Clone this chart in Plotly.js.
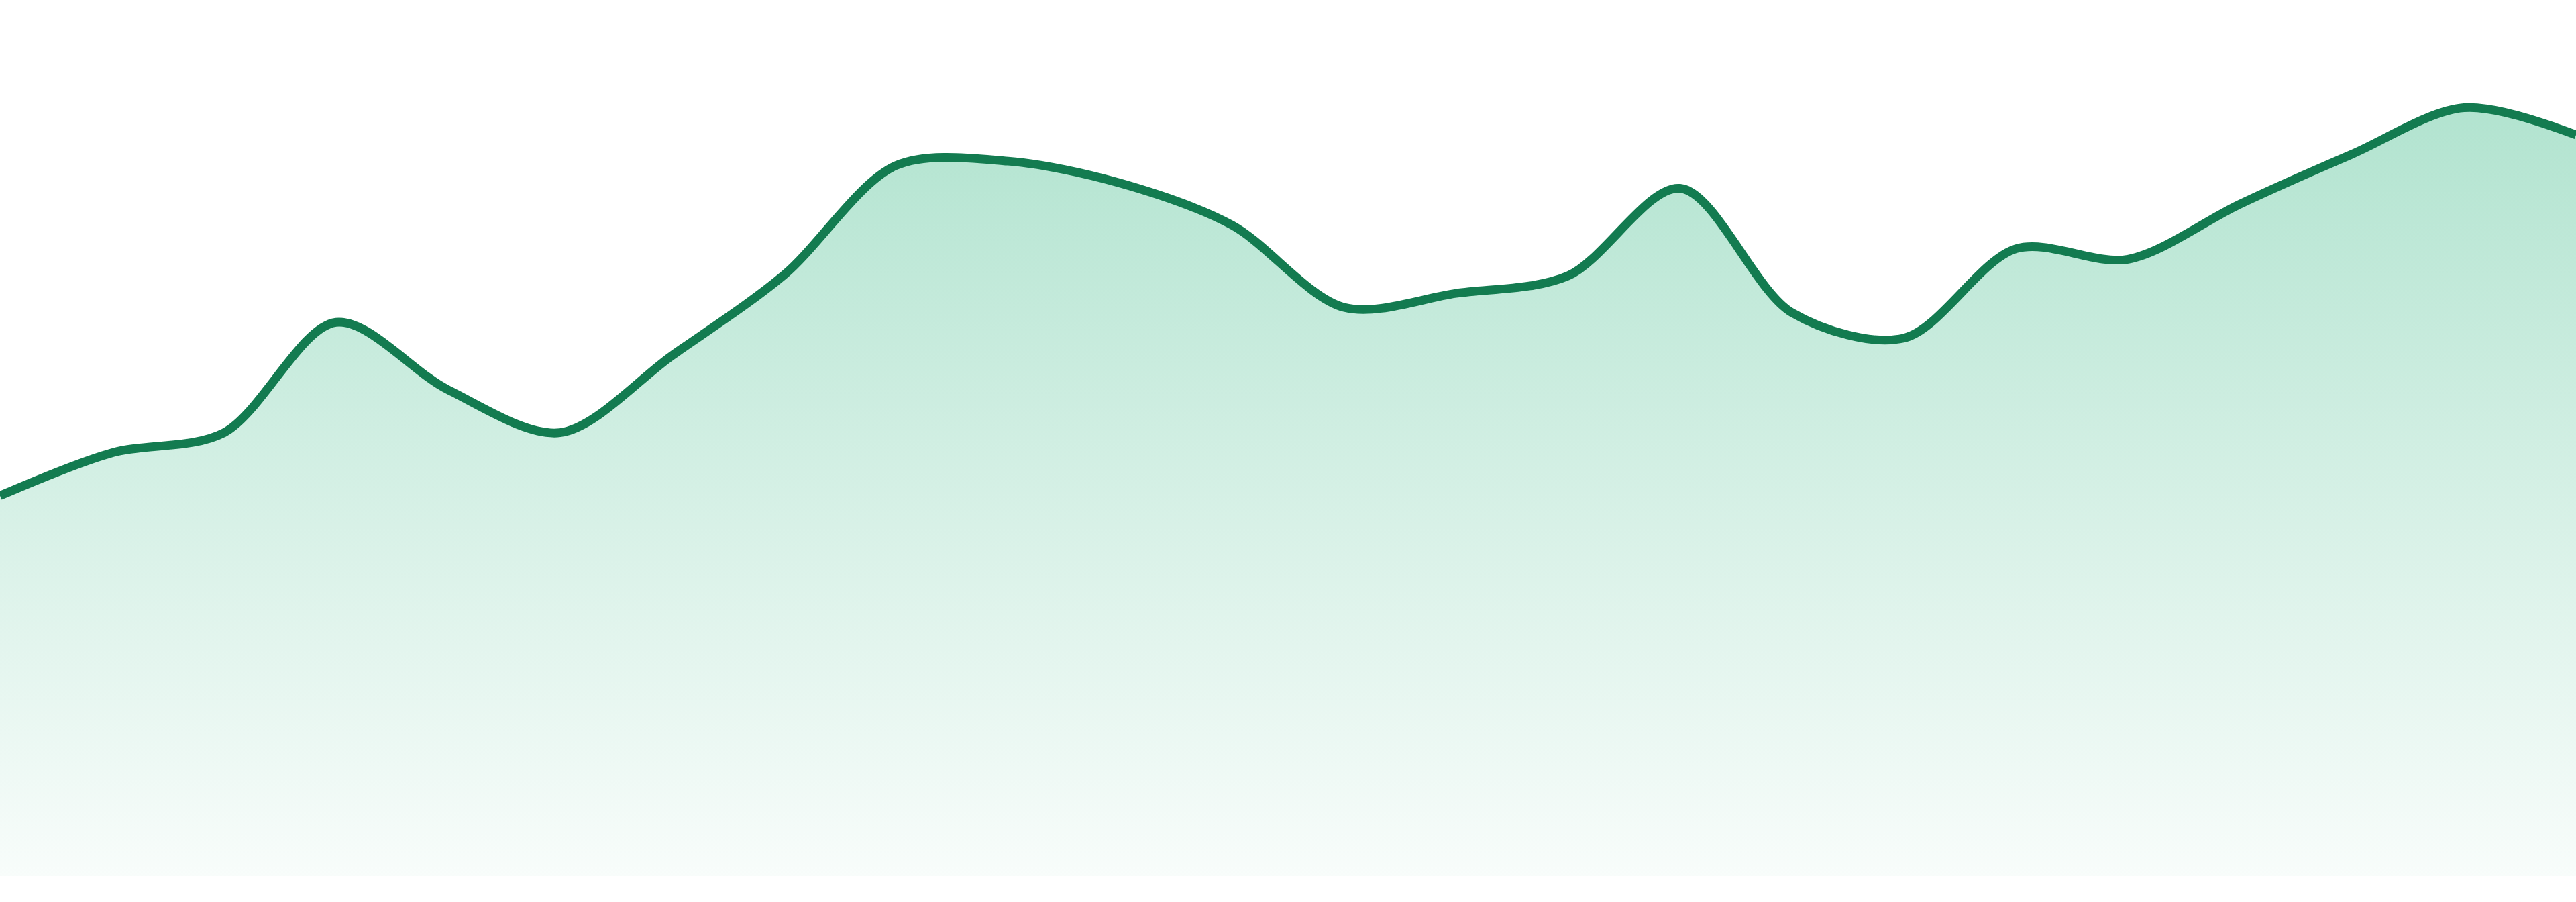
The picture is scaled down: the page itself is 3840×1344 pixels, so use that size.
<!DOCTYPE html>
<html lang="en">
<head>
    <meta charset="UTF-8">
    <title>Area trend</title>
    <script src="https://cdn.plot.ly/plotly-3.0.1.min.js"></script>
    <style>
        * { margin: 0; padding: 0; box-sizing: border-box; }
        html, body { width: 100%; height: 100%; background: #ffffff; overflow: hidden; }
        #chart { width: 3840px; height: 1344px; }
    </style>
</head>
<body>
    <div id="chart"></div>

    <script>
        // one point per period
        const periods = [0, 1, 2, 3, 4, 5, 6, 7, 8, 9, 10, 11, 12, 13, 14, 15, 16, 17, 18, 19, 20, 21, 22, 23];
        const values = [43.4, 48.3, 50.6, 63.2, 55.5, 50.6, 59.4, 68.6, 81.1, 81.6, 79.1, 74.3,
                        64.9, 66.5, 68.5, 78.5, 64.3, 61.4, 71.6, 70.4, 76.7, 82.4, 87.7, 84.6];

        const area = {
            x: periods,
            y: values,
            type: 'scatter',
            mode: 'lines',
            line: { color: '#137b50', width: 13, shape: 'spline', smoothing: 0.9 },
            fill: 'tozeroy',
            fillgradient: {
                type: 'vertical',
                start: 0,
                stop: 90,
                colorscale: [
                    [0, 'rgba(22, 172, 112, 0.03)'],
                    [1, 'rgba(22, 172, 112, 0.34)']
                ]
            },
            hoverinfo: 'skip',
            showlegend: false
        };

        const hidden = {
            visible: false,
            showgrid: false,
            zeroline: false,
            fixedrange: true
        };

        const layout = {
            width: 3840,
            height: 1344,
            margin: { l: 0, r: 0, t: 0, b: 39 },
            paper_bgcolor: '#ffffff',
            plot_bgcolor: '#ffffff',
            xaxis: Object.assign({ range: [0, 23] }, hidden),
            yaxis: Object.assign({ range: [0, 100] }, hidden),
            showlegend: false
        };

        Plotly.newPlot('chart', [area], layout, { displayModeBar: false, staticPlot: true });
    </script>
</body>
</html>
